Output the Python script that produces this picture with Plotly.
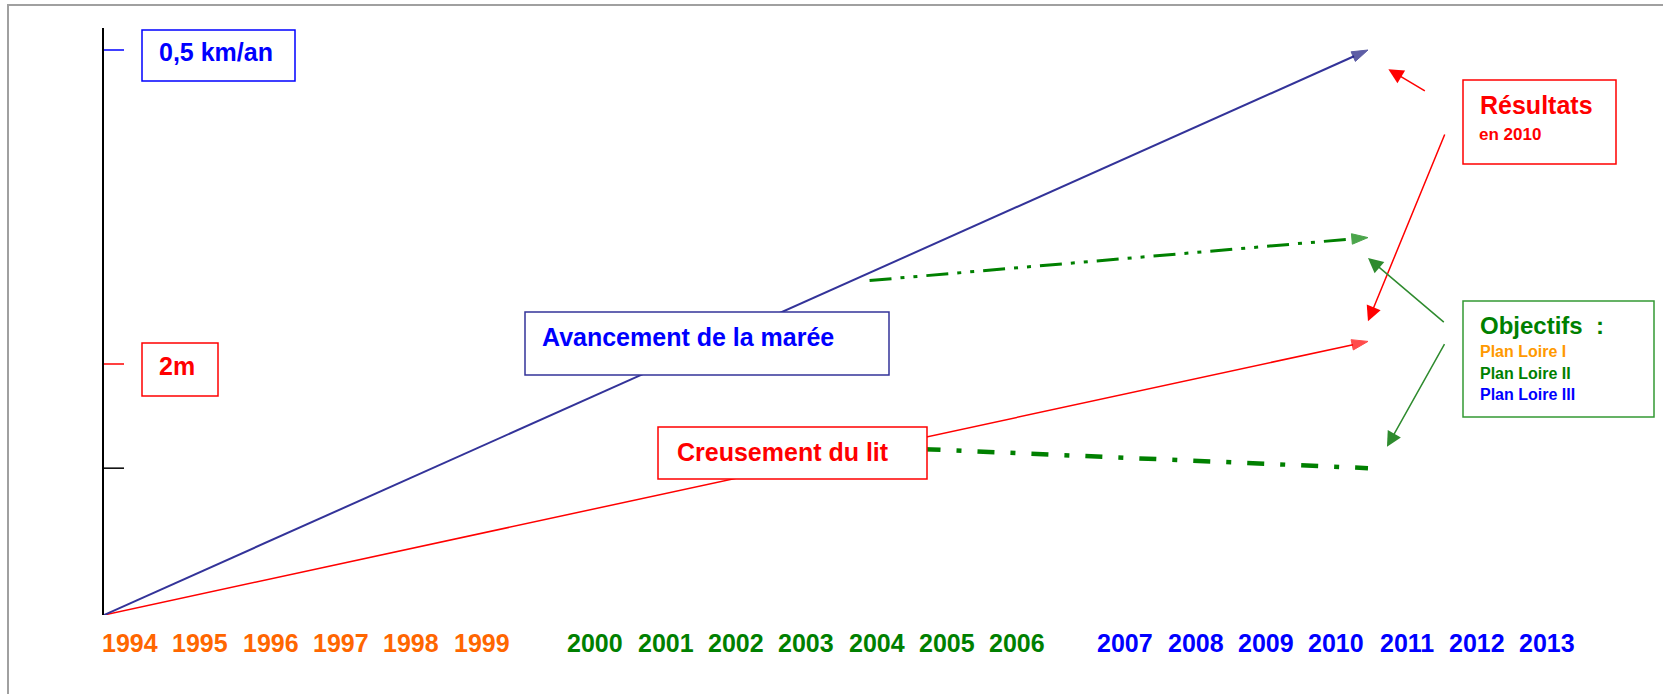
import plotly.graph_objects as go

# ---------------- data ----------------
years = list(range(1994, 2014))
periods = ["Plan Loire I", "Plan Loire II", "Plan Loire III"]
period_first_year = [1994, 2000, 2007]
period_colors = ["#FF6600", "#008000", "#0000FF"]
legend_colors = ["#FF9900", "#008000", "#0000FF"]

# tide advancement (km/an) and river-bed deepening (m)
tide_years = [1993.63, 2010.45]
tide_kman = [0.0, 0.5]
bed_years = [1993.63, 2010.45]
bed_m = [0.0, 2.18]
# objectives (green dash-dot)
obj_tide_years = [2003.9, 2010.45]
obj_tide_kman = [0.296, 0.334]
obj_bed_years = [2003.9, 2010.45]
obj_bed_m = [1.34, 1.17]
# axis marks
mark_tide_kman = 0.5
mark_bed_m = 2.0
mark_obj_m = 1.17

# ---------------- layout helpers ----------------
W, H = 1663, 694
ML, MR, MT, MB = 104, 3, 28, 79
PW, PH = W - ML - MR, H - MT - MB
SLOT_PX = 70.3
GAP1, GAP2 = 0.62, 0.54
X0 = -0.37
Y_M_RANGE = PH / 125.5
Y_KM_RANGE = PH / 1130.0


def pos(year):
    p = year - 1994
    if year > 1999.5:
        p += GAP1
    if year > 2006.5:
        p += GAP2
    return p


def pxx(px):
    return (px - ML) / PW


def pxy(py):
    return (H - MB - py) / PH


FONT = "Liberation Sans, Arial, sans-serif"

fig = go.Figure()


def arrow_marker(color):
    return dict(symbol="arrow", size=[0, 17], angleref="previous", color=color,
                line=dict(color=color, width=1))


fig.add_trace(go.Scatter(
    x=[pos(y) for y in tide_years], y=tide_kman, yaxis="y2",
    mode="lines+markers", line=dict(color="#333399", width=2),
    marker=arrow_marker("#1A1A80"), hoverinfo="skip", showlegend=False))
fig.add_trace(go.Scatter(
    x=[pos(y) for y in bed_years], y=bed_m, yaxis="y",
    mode="lines+markers", line=dict(color="#FF0000", width=1.5),
    marker=arrow_marker("#FF0000"), hoverinfo="skip", showlegend=False))
fig.add_trace(go.Scatter(
    x=[pos(y) for y in obj_tide_years], y=obj_tide_kman, yaxis="y2",
    mode="lines+markers", line=dict(color="#008000", width=3, dash="22px,9px,4px,9px,4px,9px"),
    marker=arrow_marker("#008000"), hoverinfo="skip", showlegend=False))
fig.add_trace(go.Scatter(
    x=[pos(y) for y in obj_bed_years], y=obj_bed_m, yaxis="y",
    mode="lines", line=dict(color="#008000", width=4.5, dash="17px,16px,5px,16px"),
    hoverinfo="skip", showlegend=False))

shapes = []
# outer frame
shapes.append(dict(type="rect", xref="paper", yref="paper", x0=pxx(8), x1=pxx(1720),
                   y0=pxy(740), y1=pxy(5), line=dict(color="#A0A0A0", width=2), layer="below"))
# axis ticks
tick_len = 20 / PW
shapes.append(dict(type="line", xref="x domain", yref="y2", x0=0, x1=tick_len,
                   y0=mark_tide_kman, y1=mark_tide_kman, line=dict(color="#0000FF", width=1.5)))
shapes.append(dict(type="line", xref="x domain", yref="y", x0=0, x1=tick_len,
                   y0=mark_bed_m, y1=mark_bed_m, line=dict(color="#FF0000", width=1.5)))
shapes.append(dict(type="line", xref="x domain", yref="y", x0=0, x1=tick_len,
                   y0=mark_obj_m, y1=mark_obj_m, line=dict(color="#000000", width=1.5)))


def box(x0, y0, x1, y1, color, width=1.5):
    shapes.append(dict(type="rect", xref="paper", yref="paper", x0=pxx(x0), x1=pxx(x1),
                       y0=pxy(y1), y1=pxy(y0), line=dict(color=color, width=width),
                       fillcolor="white", layer="above"))


box(142, 30, 295, 81, "#0000FF")
box(142, 343, 218, 396, "#FF0000")
box(525, 312, 889, 375, "#333399")
box(658, 427, 927, 479, "#FF0000")
box(1463, 80, 1616, 164, "#FF0000")
box(1463, 301, 1654, 417, "#339933")

annotations = []


def label(text, x, cy, size, color, family=FONT):
    annotations.append(dict(text="<b>" + text + "</b>", xref="paper", yref="paper",
                            x=pxx(x), y=pxy(cy), xanchor="left", yanchor="middle",
                            showarrow=False, font=dict(family=family, size=size, color=color)))


label("0,5 km/an", 157, 52, 25, "#0000FF")
label("2m", 157, 366, 25, "#FF0000")
label("Avancement de la marée", 540, 337, 25, "#0000FF")
label("Creusement du lit", 675, 452, 25, "#FF0000")
label("Résultats", 1478, 105, 25, "#FF0000")
label("en 2010", 1477, 134, 17, "#FF0000")
label("Objectifs\u00a0 :", 1478, 326, 24, "#008000")
for i, name in enumerate(periods):
    label(name, 1478, 351 + 22 * i, 16, legend_colors[i])

# year labels
for yr in years:
    k = sum(1 for f in period_first_year if yr >= f) - 1
    annotations.append(dict(text="<b>%d</b>" % yr, xref="x", yref="paper", x=pos(yr), y=0,
                            yshift=-(643 - (H - MB)), xanchor="center", yanchor="middle",
                            showarrow=False,
                            font=dict(family=FONT, size=25, color=period_colors[k])))


def arrow(head, tail, yref, color):
    annotations.append(dict(text="", x=pos(head[0]), y=head[1], ax=pos(tail[0]), ay=tail[1],
                            xref="x", yref=yref, axref="x", ayref=yref, showarrow=True,
                            arrowhead=2, arrowsize=2, arrowwidth=1.5, arrowcolor=color,
                            standoff=0, startstandoff=0))


arrow((2010.74, 0.483), (2011.28, 0.463), "y2", "#FF0000")
arrow((2010.45, 2.34), (2011.55, 3.84), "y", "#FF0000")
arrow((2010.45, 0.316), (2011.55, 0.258), "y2", "#2E8B2E")
arrow((2010.72, 1.34), (2011.55, 2.17), "y", "#2E8B2E")

fig.update_layout(
    width=W, height=H,
    margin=dict(l=ML, r=MR, t=MT, b=MB),
    paper_bgcolor="white", plot_bgcolor="white",
    xaxis=dict(range=[X0, X0 + PW / SLOT_PX], visible=False, fixedrange=True),
    yaxis=dict(range=[0, Y_M_RANGE], showline=True, linecolor="#000000", linewidth=1.5,
               showgrid=False, zeroline=False, showticklabels=False, ticks="", fixedrange=True),
    yaxis2=dict(range=[0, Y_KM_RANGE], overlaying="y", visible=False, fixedrange=True),
    shapes=shapes, annotations=annotations, showlegend=False,
)

fig.write_html("out.html", config={"displayModeBar": False},
               post_script="document.body.style.margin='0px';")
